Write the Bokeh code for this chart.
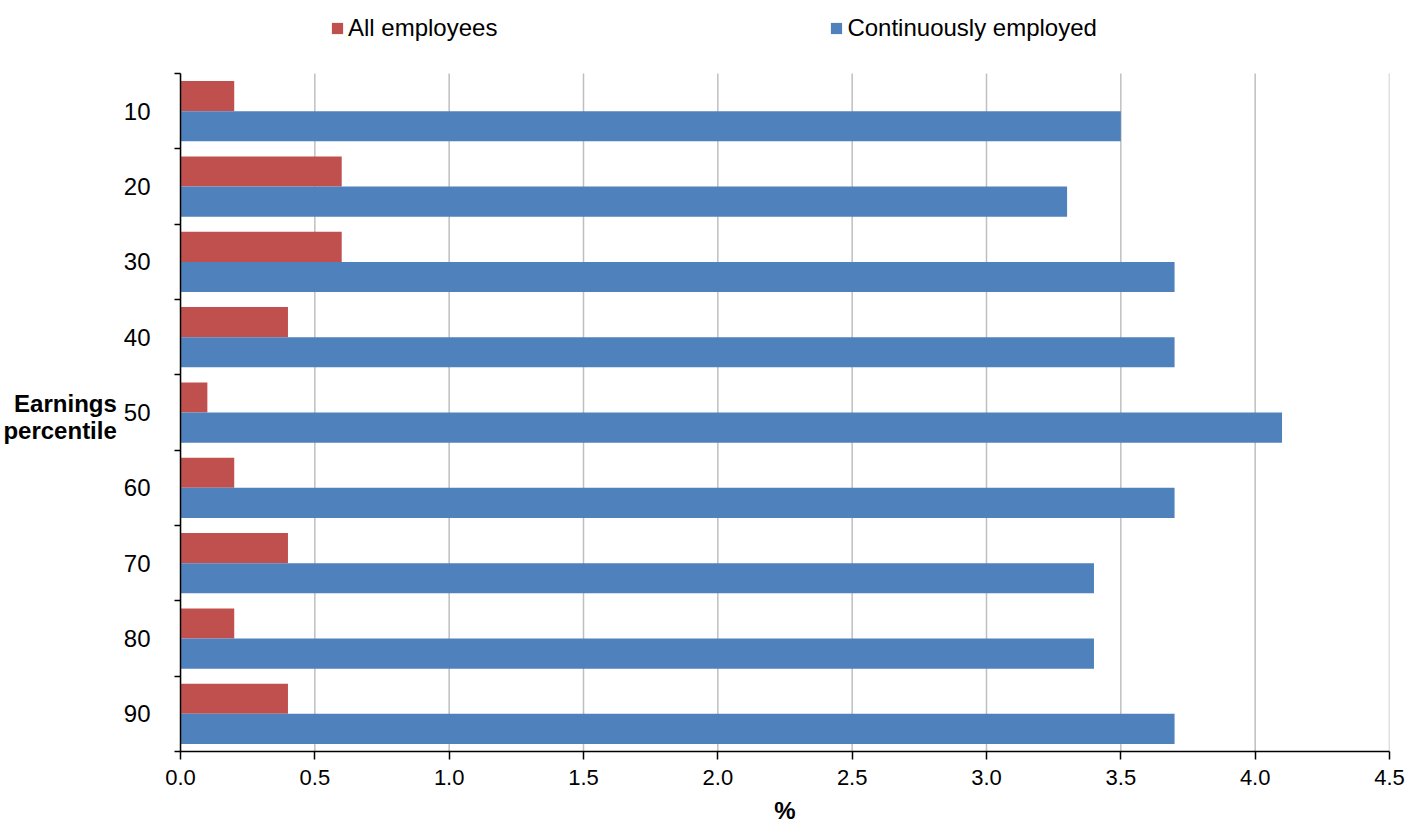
from bokeh.plotting import figure
from bokeh.models import (Range1d, FixedTicker, Legend, LegendItem,
                          NumeralTickFormatter, ColumnDataSource)
from bokeh.embed import file_html
from bokeh.resources import INLINE

percentiles = ["10", "20", "30", "40", "50", "60", "70", "80", "90"]
all_employees = [0.2, 0.6, 0.6, 0.4, 0.1, 0.2, 0.4, 0.2, 0.4]
continuously_employed = [3.5, 3.3, 3.7, 3.7, 4.1, 3.7, 3.4, 3.4, 3.7]
x_ticks = [0.0, 0.5, 1.0, 1.5, 2.0, 2.5, 3.0, 3.5, 4.0, 4.5]

RED = "#C0504D"
BLUE = "#4F81BD"
FONT = "Liberation Sans"

n = len(percentiles)
centers = [i + 0.5 for i in range(n)]
TOP_PAD = 0.97  # room above the first category for the legend

src = ColumnDataSource(dict(
    y_red=[c - 0.2 for c in centers],
    y_blue=[c + 0.2 for c in centers],
    red=all_employees,
    blue=continuously_employed,
))
grid_src = ColumnDataSource(dict(x=x_ticks, y0=[0] * len(x_ticks),
                                 y1=[n] * len(x_ticks)))

p = figure(width=1408, height=831, output_backend="svg", toolbar_location=None,
           x_range=Range1d(0, 4.5), y_range=Range1d(n, -TOP_PAD), title=None,
           min_border_left=180, min_border_right=19, min_border_top=0,
           min_border_bottom=80)
p.outline_line_color = None
p.background_fill_color = "white"
p.border_fill_color = "white"
p.xgrid.visible = False
p.ygrid.visible = False

# vertical gridlines (bounded to the category area)
p.segment(x0="x", x1="x", y0="y0", y1="y1", source=grid_src,
          line_color="#BFBFBF", line_width=1.5)

r_red = p.hbar(y="y_red", right="red", left=0, height=0.4, source=src,
               fill_color=RED, line_color=None)
r_blue = p.hbar(y="y_blue", right="blue", left=0, height=0.4, source=src,
                fill_color=BLUE, line_color=None)

# x axis
p.xaxis.ticker = FixedTicker(ticks=x_ticks)
p.xaxis.formatter = NumeralTickFormatter(format="0.0")
p.xaxis.axis_line_color = "black"
p.xaxis.axis_line_width = 1.5
p.xaxis.major_tick_line_color = "black"
p.xaxis.major_tick_line_width = 1.5
p.xaxis.major_tick_in = 0
p.xaxis.major_tick_out = 8
p.xaxis.minor_tick_line_color = None
p.xaxis.major_label_text_font = FONT
p.xaxis.major_label_text_font_size = "22px"
p.xaxis.major_label_text_color = "black"
p.xaxis.major_label_standoff = 10
p.xaxis.axis_label = "%"
p.xaxis.axis_label_text_font = FONT
p.xaxis.axis_label_text_font_size = "24px"
p.xaxis.axis_label_text_font_style = "bold"
p.xaxis.axis_label_text_color = "black"
p.xaxis.axis_label_standoff = 9

# y axis
p.yaxis.bounds = (0, n)
p.yaxis.ticker = FixedTicker(ticks=centers, minor_ticks=list(range(n + 1)))
p.yaxis.major_label_overrides = {c: lab for c, lab in zip(centers, percentiles)}
p.yaxis.axis_line_color = "black"
p.yaxis.axis_line_width = 1.5
p.yaxis.major_tick_line_color = None
p.yaxis.major_tick_in = 0
p.yaxis.major_tick_out = 0
p.yaxis.minor_tick_line_color = "black"
p.yaxis.minor_tick_line_width = 1.5
p.yaxis.minor_tick_in = 0
p.yaxis.minor_tick_out = 6
p.yaxis.major_label_text_font = FONT
p.yaxis.major_label_text_font_size = "24px"
p.yaxis.major_label_text_color = "black"
p.yaxis.major_label_standoff = 24
# leading blank lines push the two-line title down to the middle of the bars
p.yaxis.axis_label = "\n\n\nEarnings\npercentile"
p.yaxis.axis_label_text_font = FONT
p.yaxis.axis_label_text_font_size = "24px"
p.yaxis.axis_label_text_font_style = "bold"
p.yaxis.axis_label_text_color = "black"
p.yaxis.axis_label_text_align = "center"
p.yaxis.axis_label_text_line_height = 1.0
p.yaxis.axis_label_standoff = 4
p.yaxis.axis_label_orientation = "horizontal"

legend = Legend(items=[LegendItem(label="All employees", renderers=[r_red]),
                       LegendItem(label="Continuously employed", renderers=[r_blue])],
                orientation="horizontal", location=(150, 709),
                glyph_width=14, glyph_height=14, label_standoff=4,
                spacing=332, padding=0, margin=0,
                border_line_color=None, background_fill_alpha=0,
                label_text_font=FONT, label_text_font_size="24px",
                label_text_color="black")
p.add_layout(legend, "center")

open("out.html", "w").write(file_html(p, INLINE))
